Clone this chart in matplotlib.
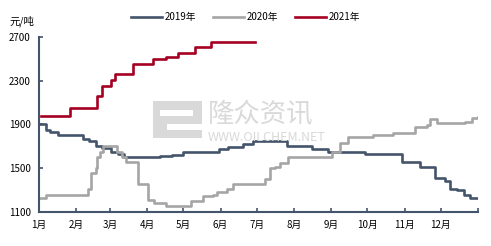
import matplotlib
matplotlib.use('Agg')
import matplotlib.pyplot as plt

plt.rcParams['font.family'] = ['Noto Sans CJK SC', 'DejaVu Sans']

# day of year (0 = 1 Jan) where the price changes, and the new price, yuan/ton
days_2019 = [0, 6, 9, 16, 30, 37, 42, 47, 52, 60, 66, 71, 101, 111, 120, 150, 157, 170, 178,
             206, 227, 240, 271, 302, 317, 329, 338, 342, 348, 353, 358, 365]
vals_2019 = [1900, 1850, 1830, 1805, 1800, 1770, 1745, 1700, 1685, 1650, 1630, 1600, 1612, 1625,
             1645, 1675, 1697, 1725, 1752, 1700, 1678, 1645, 1630, 1560, 1515, 1410, 1385, 1315,
             1300, 1260, 1225, 1225]

days_2020 = [0, 6, 37, 41, 43, 47, 48, 51, 53, 63, 65, 69, 72, 80, 82, 90, 91, 96, 103, 106, 120,
             126, 135, 136, 145, 148, 156, 161, 185, 188, 192, 196, 200, 207, 240, 244, 250, 257,
             278, 294, 313, 323, 325, 331, 352, 354, 360, 365]
vals_2020 = [1230, 1255, 1255, 1310, 1455, 1500, 1605, 1650, 1700, 1700, 1650, 1605, 1560, 1560,
             1360, 1360, 1210, 1185, 1185, 1155, 1155, 1205, 1205, 1250, 1255, 1285, 1315, 1355,
             1355, 1400, 1500, 1515, 1550, 1605, 1605, 1650, 1730, 1790, 1800, 1825, 1875, 1895,
             1950, 1910, 1910, 1925, 1955, 1970]

days_2021 = [2, 26, 48, 52, 60, 63, 78, 95, 106, 116, 130, 143, 180]
vals_2021 = [1980, 2050, 2160, 2255, 2310, 2365, 2455, 2500, 2515, 2555, 2605, 2650, 2650]

month_starts = [0, 31, 59, 90, 120, 151, 181, 212, 243, 273, 304, 334]
month_labels = ['1月', '2月', '3月', '4月', '5月', '6月', '7月', '8月', '9月', '10月', '11月', '12月']
y_ticks = [1100, 1500, 1900, 2300, 2700]

c2019 = '#44546A'
c2020 = '#A5A5A5'
c2021 = '#A50021'
wm = '#D9D9D9'

fig = plt.figure(figsize=(4.91, 2.46), dpi=100)
ax = fig.add_axes([0.0794, 0.138, 0.894, 0.712])

# watermark (logo block + text)
fig.patches.append(plt.Rectangle((0.3116, 0.439), 0.0998, 0.150, transform=fig.transFigure,
                                 facecolor=wm, edgecolor='none', zorder=0))
fig.patches.append(plt.Rectangle((0.326, 0.528), 0.067, 0.024, transform=fig.transFigure,
                                 facecolor='white', edgecolor='none', zorder=0))
fig.patches.append(plt.Rectangle((0.340, 0.4715), 0.072, 0.024, transform=fig.transFigure,
                                 facecolor='white', edgecolor='none', zorder=0))
fig.text(0.4236, 0.5346, '隆众资讯', fontsize=19, color=wm, ha='left', va='center', zorder=0)
fig.text(0.4236, 0.443, 'WWW.OILCHEM.NET', fontsize=9, color=wm, ha='left', va='center', zorder=0)

ax.plot(days_2019, vals_2019, color=c2019, lw=1.9, label='2019年', drawstyle='steps-post')
ax.plot(days_2020, vals_2020, color=c2020, lw=1.9, label='2020年', drawstyle='steps-post')
ax.plot(days_2021, vals_2021, color=c2021, lw=1.9, label='2021年', drawstyle='steps-post')

ax.set_xlim(0, 365)
ax.set_ylim(1100, 2700)
ax.set_xticks(month_starts + [365])
ax.set_xticklabels(month_labels + [''])
ax.set_yticks(y_ticks)
ax.patch.set_alpha(0)

for s in ['top', 'right']:
    ax.spines[s].set_visible(False)
for s in ['left', 'bottom']:
    ax.spines[s].set_color(c2019)
    ax.spines[s].set_linewidth(1.5)
ax.tick_params(direction='in', length=3, width=1.2, color=c2019, labelsize=7, pad=6)

fig.text(0.02, 0.915, '元/吨', fontsize=7.5, ha='left', va='center')
fig.legend(loc='center', bbox_to_anchor=(0.5, 0.93), ncol=3, frameon=False, fontsize=7,
           handlelength=3.2, handletextpad=0.2, columnspacing=1.8)

fig.savefig('out.png', dpi=100)
